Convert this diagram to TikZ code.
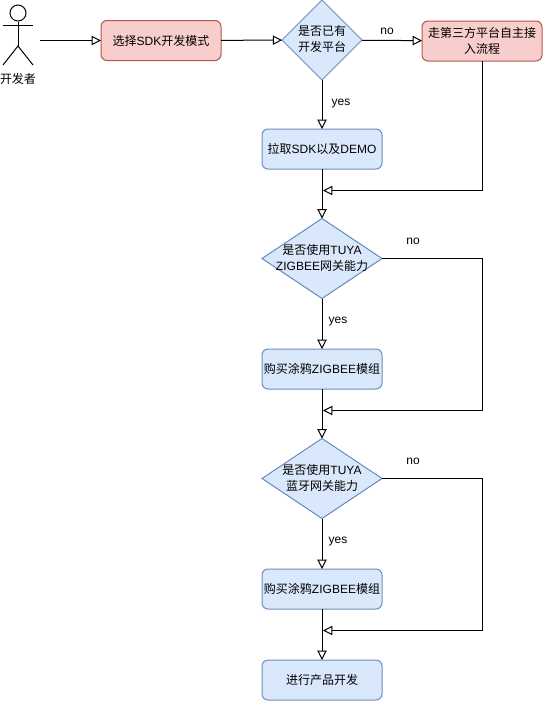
\documentclass[tikz,border=0pt]{standalone}
\usepackage{fontspec}
\setmainfont{Liberation Sans}
\newfontfamily\zhfont{Noto Sans CJK SC}
\newcommand{\zh}[1]{{\zhfont #1}}
\usetikzlibrary{shapes.geometric, arrows.meta}
\definecolor{figblue}{RGB}{218,232,252}
\definecolor{figblueline}{RGB}{108,142,191}
\definecolor{figred}{RGB}{248,206,204}
\definecolor{figredline}{RGB}{184,84,80}
\newcommand{\difftext}[2]{\makebox[0pt]{\smash{\raisebox{-2.5pt}{\begin{tabular}[c]{@{}c@{}}#1\\#2\end{tabular}}}}}
\tikzstyle{txt} = [font=\fontsize{9}{12}\selectfont, inner sep=0pt, outer sep=0pt]
\tikzstyle{bluebox} = [txt, draw=figblueline, fill=figblue, rounded corners=4.5pt, minimum width=90pt, minimum height=30pt, align=center, line width=0.75pt]
\tikzstyle{redbox} = [txt, draw=figredline, fill=figred, rounded corners=4.5pt, minimum width=90pt, minimum height=30pt, align=center, line width=0.75pt]
\tikzstyle{decision} = [txt, draw=figblueline, fill=figblue, shape=diamond, aspect=1.5, minimum width=90pt, minimum height=60pt, line width=0.75pt]
\tikzstyle{arrow} = [-{Triangle[open, length=7pt, width=7pt]}, line width=0.75pt]
\tikzstyle{plain} = [line width=0.75pt]

\begin{document}
\begin{tikzpicture}[x=0.75pt, y=-0.75pt]
    \useasboundingbox (0,0) rectangle (543,701);
    % actor
    \node[circle, draw, line width=0.75pt, minimum size=12pt, inner sep=0pt] (head) at (18,13) {};
    \coordinate (hip) at (18,46);
    \coordinate (armleft) at (3,25);
    \coordinate (armright) at (33,25);
    \coordinate (footleft) at (3,65);
    \coordinate (footright) at (33,65);
    \coordinate (actorout) at (40,40.5);
    \draw[plain] (head.south) -- (hip);
    \draw[plain] (armleft) -- (armright);
    \draw[plain] (footleft) -- (hip) -- (footright);
    \node[txt] (actorname) at (18,79) {\zh{开发者}};
    % boxes
    \node[redbox] (mode) at (161,40.5) {\zh{选择}SDK\zh{开发模式}};
    \node[decision, aspect=1, minimum width=60pt] (hasplat) at (322,40) {\difftext{\zh{是否已有}}{\zh{开发平台}}};
    \node[redbox] (third) at (482,41) {\zh{走第三方平台自主接}\\\zh{入流程}};
    \node[bluebox] (sdk) at (322,149) {\zh{拉取}SDK\zh{以及}DEMO};
    \node[decision] (usezig) at (322,258.5) {\difftext{\zh{是否使用}TUYA}{ZIGBEE\zh{网关能力}}};
    \node[bluebox] (buyzig) at (322,369) {\zh{购买涂鸦}ZIGBEE\zh{模组}};
    \node[decision] (useble) at (322,478.5) {\difftext{\zh{是否使用}TUYA}{\zh{蓝牙网关能力}}};
    \node[bluebox] (buyble) at (322,589) {\zh{购买涂鸦}ZIGBEE\zh{模组}};
    \node[bluebox] (dev) at (322,680) {\zh{进行产品开发}};
    % joins on the right side
    \coordinate (joinone) at (323,190.5);
    \coordinate (jointwo) at (323,410.5);
    \coordinate (jointhree) at (323,630.5);
    \coordinate (turntwo) at (482.5,258.5);
    \coordinate (turnthree) at (482.5,478.5);
    % connectors
    \draw[arrow] (actorout) -- (mode.west);
    \draw[arrow] (mode) -- (hasplat);
    \draw[arrow] (hasplat) -- (third);
    \draw[arrow] (hasplat) -- (sdk);
    \draw[arrow] (third.south -| turntwo) |- (joinone);
    \draw[arrow] (sdk) -- (usezig);
    \draw[arrow] (usezig) -- (buyzig);
    \draw[arrow] (usezig.east) -- (turntwo) |- (jointwo);
    \draw[arrow] (buyzig) -- (useble);
    \draw[arrow] (useble) -- (buyble);
    \draw[arrow] (useble.east) -- (turnthree) |- (jointhree);
    \draw[arrow] (buyble) -- (dev);
    % labels
    \node[txt] (nofirst) at (387,31) {no};
    \node[txt] (yesfirst) at (341,104) {yes};
    \node[txt] (nosecond) at (413,241) {no};
    \node[txt] (yessecond) at (338,322) {yes};
    \node[txt] (nothird) at (413,461) {no};
    \node[txt] (yesthird) at (338,542) {yes};
\end{tikzpicture}
\end{document}
